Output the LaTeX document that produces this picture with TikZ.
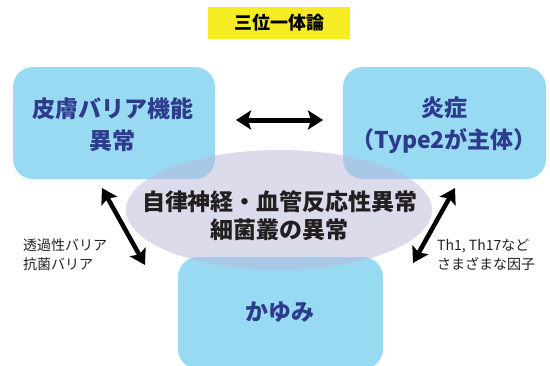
\documentclass[tikz,border=0pt]{standalone}
\usepackage{fontspec}
\setmainfont{Noto Sans CJK JP}
\usetikzlibrary{shapes.geometric,arrows.meta}
\definecolor{boxblue}{HTML}{99DAF3}
\definecolor{elllav}{RGB}{185,183,217}
\definecolor{txtblue}{HTML}{2E3A8C}
\definecolor{titleyellow}{HTML}{F5EC23}
\definecolor{txtblack}{HTML}{231F20}
\tikzset{
  bluebox/.style={rectangle, rounded corners=20pt, fill=boxblue, draw=none, inner sep=0pt},
  boxtext/.style={text=txtblue, font=\fontsize{23}{32}\selectfont\bfseries, align=center, inner sep=0pt},
  elltext/.style={text=txtblack, font=\fontsize{23}{28}\selectfont\bfseries, align=center, inner sep=0pt},
  smalltext/.style={text=txtblack, font=\fontsize{14}{19}\selectfont, align=left, inner sep=0pt},
  bigarrow/.style={line width=5pt, {Stealth[length=15pt,width=19pt,inset=3pt]}-{Stealth[length=15pt,width=19pt,inset=3pt]}, black},
  diagarrow/.style={line width=4.5pt, {Stealth[length=15pt,width=18pt,inset=3pt]}-{Stealth[length=15pt,width=18pt,inset=3pt]}, black}
}
\begin{document}
\begin{tikzpicture}[x=1pt,y=-1pt]
\useasboundingbox (0,0) rectangle (550,365);
% title
\node[fill=titleyellow, minimum width=142pt, minimum height=32pt, inner sep=0pt, font=\fontsize{18}{20}\selectfont\bfseries, text=black] (title) at (279,23) {三位一体論};
% boxes
\node[bluebox, minimum width=202pt, minimum height=112pt] (skin) at (114,123) {};
\node[bluebox, minimum width=203pt, minimum height=112pt] (infl) at (444.5,123) {};
\node[bluebox, minimum width=205pt, minimum height=112pt] (itch) at (280.5,313) {};
% ellipse
\node[ellipse, fill=elllav, fill opacity=0.5, draw=none, minimum width=306pt, minimum height=120pt, inner sep=0pt] (ell) at (279,210) {};
% texts
\node[boxtext] (skint) at (113,125) {皮膚バリア機能\\異常};
\node[boxtext] (inflt) at (444,125) {炎症\\（Type2が主体）};
\node[boxtext] (itcht) at (280,312) {かゆみ};
\node[elltext] (ellt) at (280,216) {自律神経・血管反応性異常\\細菌叢の異常};
\node[smalltext, anchor=west] (lbl) at (23,254.5) {透過性バリア\\抗菌バリア};
\node[smalltext, anchor=west] (rbl) at (437,254.5) {Th1, Th17など\\さまざまな因子};
% arrows
\coordinate (h1) at (236,120);
\coordinate (h2) at (323,120);
\coordinate (l1) at (102,188);
\coordinate (l2) at (145,265);
\coordinate (r1) at (455,188);
\coordinate (r2) at (413,263);
\draw[bigarrow] (h1) -- (h2);
\draw[diagarrow] (l1) -- (l2);
\draw[diagarrow] (r1) -- (r2);
\end{tikzpicture}
\end{document}
